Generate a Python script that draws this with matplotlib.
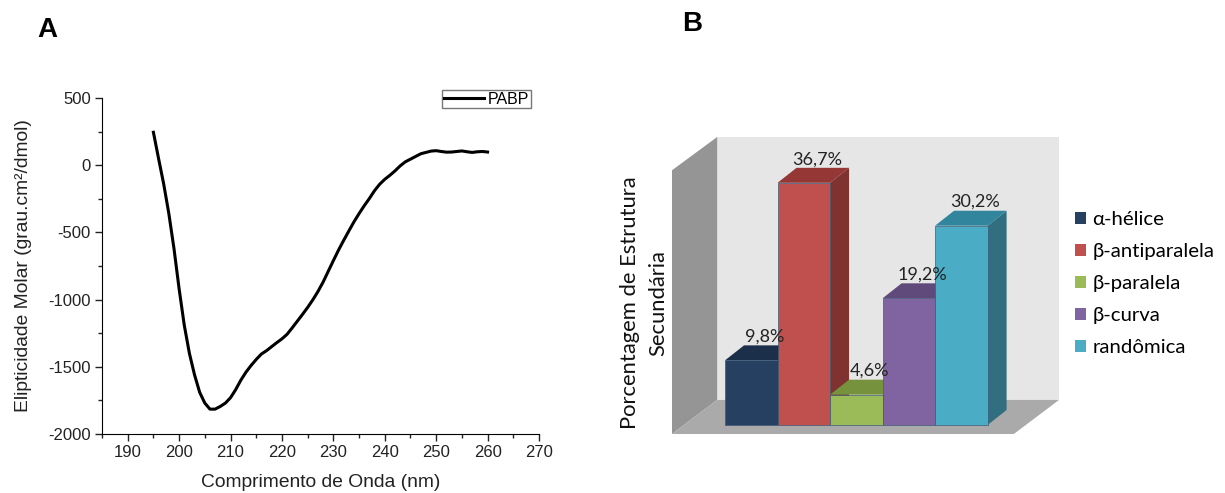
import matplotlib
matplotlib.use('Agg')
import matplotlib.pyplot as plt
from matplotlib.patches import Polygon, Patch

W, H = 1225, 493

# Panel A: CD spectrum
wavelength = list(range(195, 261))
ellipticity = [245, 50, -140, -360, -620, -920, -1190, -1400, -1560, -1690,
               -1770, -1815, -1815, -1795, -1770, -1730, -1670, -1600, -1540, -1490,
               -1445, -1405, -1380, -1350, -1320, -1292, -1258, -1210, -1160, -1110,
               -1058, -1002, -940, -870, -790, -710, -632, -560, -490, -422,
               -360, -302, -248, -190, -142, -105, -75, -42, -5, 25,
               45, 65, 85, 95, 105, 108, 102, 97, 98, 102,
               106, 100, 95, 100, 102, 98]
x_ticks = [190, 200, 210, 220, 230, 240, 250, 260, 270]
y_ticks = [-2000, -1500, -1000, -500, 0, 500]

# Panel B: secondary structure
structures = ['α-hélice', 'β-antiparalela', 'β-paralela', 'β-curva', 'randômica']
percent = [9.8, 36.7, 4.6, 19.2, 30.2]
percent_labels = ['9,8%', '36,7%', '4,6%', '19,2%', '30,2%']
front_colors = ['#254061', '#c0504d', '#9bbb59', '#8064a2', '#4bacc6']
top_colors = ['#1b2f4a', '#953735', '#76923c', '#604a7b', '#31859c']
side_colors = ['#1c3048', '#7f3230', '#76923c', '#604a7b', '#316f80']


def px_axes(fig, left, top, right, bottom):
    return fig.add_axes([left / W, 1 - bottom / H, (right - left) / W, (bottom - top) / H])


plt.rcParams['font.family'] = ['Liberation Sans', 'DejaVu Sans']
plt.rcParams['axes.unicode_minus'] = False
fig = plt.figure(figsize=(W / 100, H / 100), dpi=100)

ax = px_axes(fig, 102, 98, 539, 434)
ax.plot(wavelength, ellipticity, color='black', lw=2.2, label='PABP')
ax.set_xlim(185, 270)
ax.set_ylim(-2000, 500)
ax.set_xticks(x_ticks)
ax.set_yticks(y_ticks)
ax.set_xticks([x + 5 for x in [180] + x_ticks[:-1]], minor=True)
ax.set_yticks([y + 250 for y in y_ticks[:-1]], minor=True)
ax.tick_params(which='major', length=5, width=1, labelsize=12, colors='#222222', pad=3)
ax.tick_params(which='minor', length=3, width=1, color='#222222')
ax.spines['top'].set_visible(False)
ax.spines['right'].set_visible(False)
ax.set_xlabel('Comprimento de Onda (nm)', fontsize=13.9, color='#222222', labelpad=10)
ax.set_ylabel('Elipticidade Molar (grau.cm²/dmol)', fontsize=13.9, color='#222222', labelpad=12)
ax.legend(loc='upper right', bbox_to_anchor=(0.982, 1.025), frameon=True, fancybox=False,
          edgecolor='#777777', framealpha=1, fontsize=11.5, handlelength=2.5,
          handletextpad=0.25, borderpad=0.12, borderaxespad=0, labelspacing=0)

# 3D look of panel B, axes spans the walls and floor
bx = px_axes(fig, 672, 137, 1059, 434)
bx.set_xlim(-1.01, 6.36)
bx.set_ylim(-1.36, 43.64)
bx.axis('off')
dx, dy = 0.362, 2.27
x0, x1, x2, x3 = -1.01, -0.15, 5.5, 6.36
y0, y1, y2, y3 = -1.36, 3.8, 38.6, 43.64
bx.add_patch(Polygon([(x1, y1), (x3, y1), (x3, y3), (x1, y3)], fc='#e6e6e6', ec='none'))
bx.add_patch(Polygon([(x0, y0), (x1, y1), (x1, y3), (x0, y2)], fc='#959595', ec='none'))
bx.add_patch(Polygon([(x0, y0), (x1, y1), (x3, y1), (x2, y0)], fc='#aaaaaa', ec='none'))

for i, val in enumerate(percent):
    bx.add_patch(Polygon([(i + 1, 0), (i + 1 + dx, dy), (i + 1 + dx, val + dy), (i + 1, val)],
                         fc=side_colors[i], ec='none', zorder=2 + i))
    bx.add_patch(Polygon([(i, val), (i + dx, val + dy), (i + 1 + dx, val + dy), (i + 1, val)],
                         fc=top_colors[i], ec='none', zorder=2 + i))
    bx.bar(i, val, width=1, align='edge', color=front_colors[i], edgecolor='#3f5a78',
           linewidth=0.5, zorder=2 + i)
    bx.text(i + 0.76, val + dy + 0.1, percent_labels[i], ha='center', va='bottom', fontsize=13,
            family=['Lato', 'DejaVu Sans'], color='#222222', zorder=10)

fig.text(644 / W, 1 - 303 / H, 'Porcentagem de Estrutura\nSecundária', rotation=90, ha='center',
         va='center', multialignment='center', fontsize=15.8, linespacing=1.5,
         family=['Lato', 'DejaVu Sans'], color='#111111')

handles = [Patch(facecolor=c, edgecolor='none') for c in front_colors]
fig.legend(handles, structures, loc='upper left', bbox_to_anchor=(1075 / W, 1 - 211 / H),
           frameon=False, handlelength=0.55, handleheight=0.55, handletextpad=0.3,
           labelspacing=0.74, borderpad=0, borderaxespad=0,
           prop={'family': ['Lato', 'DejaVu Sans'], 'size': 14.7})

fig.text(37 / W, 1 - 30 / H, 'A', fontsize=20, fontweight='bold', va='center')
fig.text(682 / W, 1 - 24 / H, 'B', fontsize=20, fontweight='bold', va='center')

plt.savefig('out.png', dpi=100)
plt.close()
